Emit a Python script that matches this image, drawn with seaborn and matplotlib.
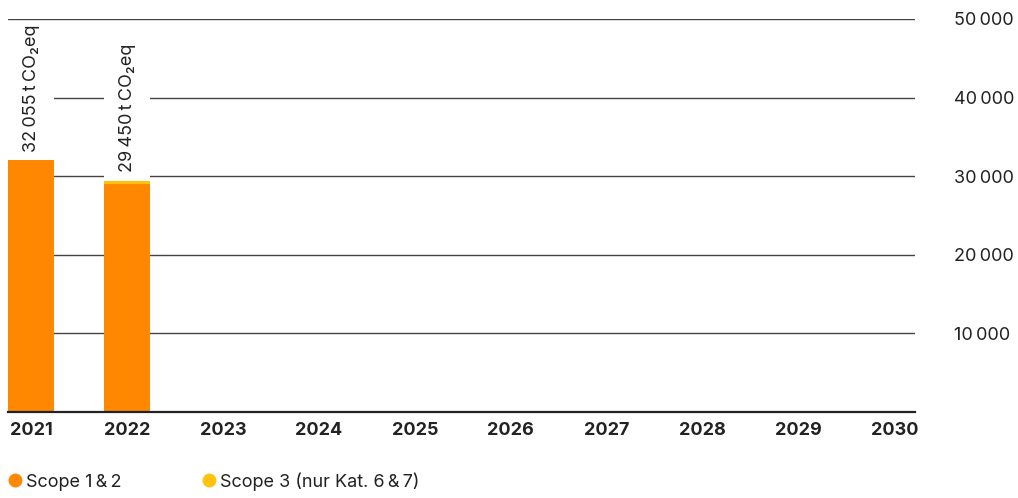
import matplotlib
matplotlib.use("Agg")
import matplotlib.pyplot as plt
from matplotlib.lines import Line2D
from matplotlib.patches import Rectangle
import seaborn as sns
import pandas as pd

# --- data ---
years = ["2021", "2022", "2023", "2024", "2025", "2026", "2027", "2028", "2029", "2030"]
scope12 = [32055, 28950, None, None, None, None, None, None, None, None]
scope3 = [0, 500, None, None, None, None, None, None, None, None]
totals = [32055, 29450]
y_ticks = [10000, 20000, 30000, 40000, 50000]
legend_labels = ["Scope 1\u2009&\u20092", "Scope 3 (nur Kat. 6\u2009&\u20097)"]

ORANGE = "#FF8800"
YELLOW = "#FFC20E"
INK = "#222222"

sns.set_style("white")
plt.rcParams["font.family"] = ["Inter", "DejaVu Sans"]
plt.rcParams["text.color"] = INK

df = pd.DataFrame({"year": years, "scope12": scope12, "scope3": scope3})
df["total"] = df["scope12"] + df["scope3"]

fig = plt.figure(figsize=(10.18, 4.98), dpi=100)
ax = fig.add_axes([8 / 1018, 86 / 498, 907 / 1018, 393 / 498])

# stacked bars: total (yellow) behind, scope 1&2 (orange) in front
sns.barplot(data=df, x="year", y="total", order=years, color=YELLOW,
            width=0.48, saturation=1, ax=ax, zorder=2, linewidth=0, edgecolor="none")
sns.barplot(data=df, x="year", y="scope12", order=years, color=ORANGE,
            width=0.48, saturation=1, ax=ax, zorder=2, linewidth=0, edgecolor="none")

ax.set_xlim(-0.24, 9.21)
ax.set_ylim(0, 50000)
ax.set_xlabel("")
ax.set_ylabel("")

for s in ["top", "left", "right"]:
    ax.spines[s].set_visible(False)
ax.spines["bottom"].set_color(INK)
ax.spines["bottom"].set_linewidth(1.6)
ax.spines["bottom"].set_zorder(4)

ax.set_yticks(y_ticks)
ax.set_yticklabels([f"{v:,}".replace(",", "\u2009") for v in y_ticks])
ax.yaxis.tick_right()
ax.tick_params(axis="y", length=0, pad=28, labelsize=13, labelcolor=INK)
for lbl in ax.get_yticklabels():
    lbl.set_horizontalalignment("left")
ax.tick_params(axis="x", length=0, pad=7, labelsize=13, labelcolor=INK)
for lbl in ax.get_xticklabels():
    lbl.set_fontweight("bold")

ax.set_axisbelow(True)
ax.yaxis.grid(True, color="#444444", linewidth=1)

# value labels above bars
labels = []
for i, tot in enumerate(totals):
    txt = f"{tot:,}".replace(",", "\u2009") + "\u2009t\u2009CO\u2082eq"
    t = ax.annotate(txt, xy=(i, tot), xytext=(0, 6), textcoords="offset points",
                    rotation=90, ha="center", va="bottom", fontsize=13,
                    color=INK, zorder=5, annotation_clip=False)
    labels.append((i, tot, t))

# white mask behind labels to break the grid lines (kept below the top line)
fig.canvas.draw()
renderer = fig.canvas.get_renderer()
inv = ax.transData.inverted()
ytop = ax.get_ylim()[1] - 250
for i, tot, t in labels:
    bb = t.get_window_extent(renderer).transformed(inv)
    top = min(bb.y1 + 200, ytop)
    ax.add_patch(Rectangle((i - 0.24, tot), 0.48, top - tot,
                           facecolor="white", edgecolor="none", zorder=1,
                           clip_on=False))

handles = [Line2D([], [], marker="o", linestyle="", markersize=10,
                  markerfacecolor=c, markeredgecolor="none") for c in (ORANGE, YELLOW)]
fig.legend(handles, legend_labels, loc="lower left", bbox_to_anchor=(-0.006, -0.014),
           ncol=2, frameon=False, fontsize=13, handlelength=0.7, handletextpad=0.3,
           columnspacing=4.45, borderpad=0.3, labelcolor=INK)

fig.savefig("out.png", dpi=100)
